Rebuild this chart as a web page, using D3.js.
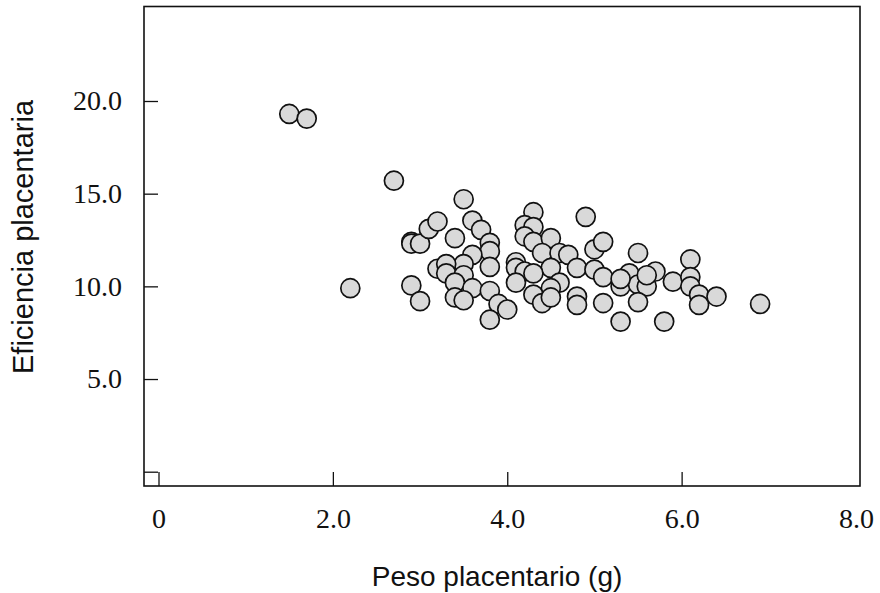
<!DOCTYPE html>
<html>
<head>
<meta charset="utf-8">
<script src="https://cdn.jsdelivr.net/npm/d3@7"></script>
<style>
  body { margin: 0; background: #fff; }
  svg { display: block; }
</style>
</head>
<body>
<svg id="drawing_region"></svg>
<script>
// peso placentario (g)
const peso = [
    1.5, 1.7, 2.7, 2.2, 2.9, 2.9, 3.0, 2.9, 3.0, 3.1,
    3.2, 3.4, 3.5, 3.6, 3.7, 3.8, 3.8, 3.8, 3.6, 3.5,
    3.2, 3.3, 3.3, 3.5, 3.4, 3.6, 3.4, 3.5, 3.8, 3.9,
    3.8, 4.0, 4.3, 4.2, 4.3, 4.2, 4.3, 4.5, 4.4, 4.6,
    4.7, 4.5, 4.8, 4.1, 4.1, 4.2, 4.3, 4.1, 4.6, 4.5,
    4.3, 4.4, 4.5, 4.8, 4.8, 4.9, 5.0, 5.1, 5.0, 5.1,
    5.1, 5.5, 6.1, 5.3, 5.4, 5.5, 5.6, 5.7, 5.9, 6.1,
    6.1, 6.2, 6.2, 6.4, 5.5, 5.3, 5.8, 5.6, 5.3, 6.9
];
// eficiencia placentaria
const eficiencia = [
    19.3, 19.05, 15.7, 9.9, 12.4, 12.3, 12.3, 10.05, 9.2, 13.1,
    13.5, 12.6, 14.7, 13.55, 13.05, 12.35, 11.9, 11.05, 11.7, 11.2,
    10.95, 11.2, 10.7, 10.6, 10.2, 9.9, 9.4, 9.25, 9.75, 9.05,
    8.2, 8.75, 14.0, 13.3, 13.2, 12.7, 12.4, 12.6, 11.8, 11.8,
    11.7, 11.0, 11.0, 11.3, 11.0, 10.8, 10.7, 10.2, 10.2, 9.9,
    9.55, 9.1, 9.4, 9.45, 9.0, 13.75, 12.0, 12.4, 10.9, 10.5,
    9.1, 11.8, 11.45, 10.0, 10.7, 10.1, 10.0, 10.8, 10.25, 10.5,
    10.0, 9.55, 9.0, 9.45, 9.15, 8.1, 8.1, 10.6, 10.4, 9.05
];

const xTicks = [ 0, 2, 4, 6, 8 ];
const xTickLabels = [ '0', '2.0', '4.0', '6.0', '8.0' ];
const yTicks = [ 0, 5, 10, 15, 20 ];
const yTickLabels = [ '', '5.0', '10.0', '15.0', '20.0' ];

const data = peso.map( ( p, i ) => ( { x: p, y: eficiencia[i] } ) );

const width = 880, height = 593;
const box = { left: 144, right: 860, top: 6.5, bottom: 486 };

const svg = d3.select( '#drawing_region' )
    .attr( 'width', width )
    .attr( 'height', height );

const xscale = d3.scaleLinear()
    .domain( [ 0, 8 ] )
    .range( [ 158.5, 856 ] );

const yscale = d3.scaleLinear()
    .domain( [ 0, 20 ] )
    .range( [ 471.7, 101 ] );

const xaxis = d3.axisBottom( xscale )
    .tickValues( xTicks )
    .tickFormat( ( d, i ) => xTickLabels[i] )
    .tickSizeInner( -14 )
    .tickSizeOuter( 0 )
    .tickPadding( 22 );

const yaxis = d3.axisLeft( yscale )
    .tickValues( yTicks )
    .tickFormat( ( d, i ) => yTickLabels[i] )
    .tickSizeInner( -14 )
    .tickSizeOuter( 0 )
    .tickPadding( 22 );

const xaxis_group = svg.append( 'g' )
    .attr( 'transform', `translate(0, ${box.bottom})` )
    .call( xaxis );

const yaxis_group = svg.append( 'g' )
    .attr( 'transform', `translate(${box.left}, 0)` )
    .call( yaxis );

[ xaxis_group, yaxis_group ].forEach( g => {
    g.select( '.domain' ).remove();
    g.selectAll( 'line' )
        .attr( 'stroke', '#111' )
        .attr( 'stroke-width', 1.3 );
    g.selectAll( 'text' )
        .attr( 'fill', '#111' )
        .style( 'font-family', '"Liberation Serif", "Times New Roman", serif' )
        .style( 'font-size', '28px' );
} );

// no tick mark at 8.0
xaxis_group.selectAll( '.tick' )
    .filter( d => d === 8 )
    .select( 'line' )
    .remove();

// frame
svg.append( 'rect' )
    .attr( 'x', box.left )
    .attr( 'y', box.top )
    .attr( 'width', box.right - box.left )
    .attr( 'height', box.bottom - box.top )
    .attr( 'fill', 'none' )
    .attr( 'stroke', '#111' )
    .attr( 'stroke-width', 1.6 );

svg.append( 'g' )
    .selectAll( 'circle' )
    .data( data )
    .join( 'circle' )
    .attr( 'cx', d => xscale( d.x ) )
    .attr( 'cy', d => yscale( d.y ) )
    .attr( 'r', 9.5 )
    .attr( 'fill', '#d9d9d9' )
    .attr( 'stroke', '#111' )
    .attr( 'stroke-width', 1.7 );

svg.append( 'text' )
    .attr( 'x', 497 )
    .attr( 'y', 586 )
    .attr( 'text-anchor', 'middle' )
    .style( 'font-family', '"Liberation Sans", Arial, sans-serif' )
    .style( 'font-size', '28px' )
    .attr( 'fill', '#111' )
    .text( 'Peso placentario (g)' );

svg.append( 'text' )
    .attr( 'transform', 'translate(33, 237) rotate(-90)' )
    .attr( 'text-anchor', 'middle' )
    .style( 'font-family', '"Liberation Sans", Arial, sans-serif' )
    .style( 'font-size', '29px' )
    .attr( 'fill', '#111' )
    .text( 'Eficiencia placentaria' );
</script>
</body>
</html>
